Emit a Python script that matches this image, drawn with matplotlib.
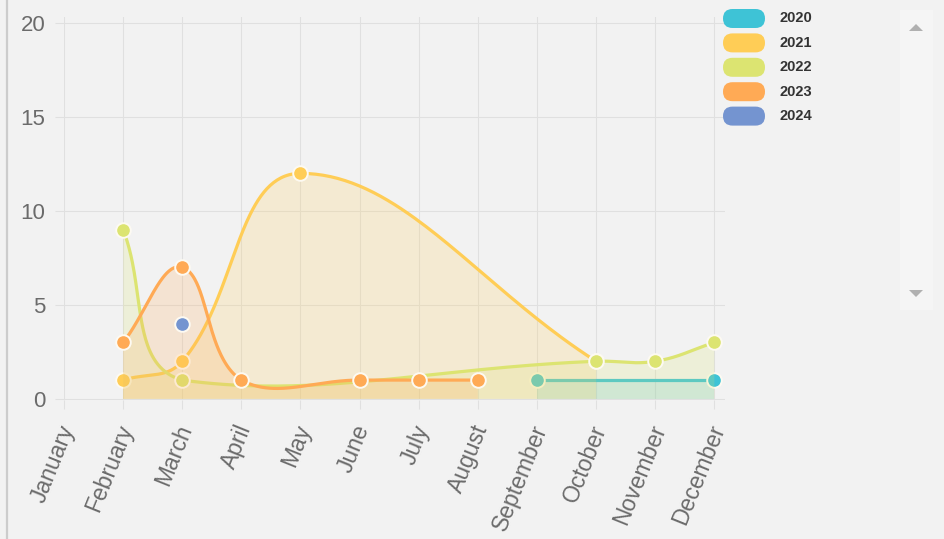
import numpy as np
import matplotlib
matplotlib.use("Agg")
import matplotlib.pyplot as plt
from matplotlib.patches import FancyBboxPatch, Rectangle, Polygon
from matplotlib.lines import Line2D
from matplotlib.transforms import IdentityTransform, ScaledTranslation

months = ["January", "February", "March", "April", "May", "June", "July",
          "August", "September", "October", "November", "December"]
years = ["2020", "2021", "2022", "2023", "2024"]
colors = ["#3ec3d6", "#ffcd56", "#dce471", "#ffaa55", "#7494d0"]

# None = no value for that month
v2020 = [None, None, None, None, None, None, None, None, 1, None, None, 1]
v2021 = [None, 1, 2, None, 12, None, None, None, None, 2, None, None]
v2022 = [None, 9, 1, None, None, None, None, None, None, 2, 2, 3]
v2023 = [None, 3, 7, 1, None, 1, 1, 1, None, None, None, None]
v2024 = [None, None, 4, None, None, None, None, None, None, None, None, None]
series = [v2020, v2021, v2022, v2023, v2024]

yticks = [0, 5, 10, 15, 20]

W, H = 945, 539
TENSION = 0.4
BG = "#f2f2f2"
GRID = "#e0e0e0"
TXT = "#6b6b6b"

plt.rcParams['font.family'] = ['Liberation Sans', 'DejaVu Sans']

fig = plt.figure(figsize=(W/100, H/100), dpi=100, facecolor=BG)
ax = fig.add_axes([64/W, (H-400)/H, 661/W, 383/H], facecolor=BG)
ax.set_xlim(0, 11.18)
ax.set_ylim(-0.06, 20.32)
for s in ax.spines.values():
    s.set_visible(False)

ax.set_xticks(range(len(months)))
ax.set_xticklabels(months, rotation=68, ha='right', va='center',
                   rotation_mode='anchor', fontsize=16.5, color=TXT)
ax.set_yticks(yticks)
ax.set_yticklabels([str(v) for v in yticks], fontsize=16, color=TXT)
ax.tick_params(axis='both', length=6.5, width=0.8, color=GRID)
ax.tick_params(axis='x', pad=12)
ax.tick_params(axis='y', pad=7)
ax.grid(True, color=GRID, lw=0.8)
ax.set_axisbelow(True)
shift = ScaledTranslation(0.04, 0, fig.dpi_scale_trans)
for lab in ax.get_xticklabels():
    lab.set_transform(lab.get_transform() + shift)


def bezier(pts, left, right, bottom, top):
    # chart.js style spline, computed in pixel space
    n = len(pts)
    ctrl = []
    for i in range(n):
        cur = pts[i]
        prev = pts[i-1] if i > 0 else cur
        nxt = pts[i+1] if i < n-1 else cur
        d01 = np.hypot(*(cur - prev))
        d12 = np.hypot(*(nxt - cur))
        tot = d01 + d12
        s01 = d01/tot if tot else 0
        s12 = d12/tot if tot else 0
        a = cur - TENSION*s01*(nxt - prev)
        b = cur + TENSION*s12*(nxt - prev)
        a = np.array([np.clip(a[0], left, right), np.clip(a[1], bottom, top)])
        b = np.array([np.clip(b[0], left, right), np.clip(b[1], bottom, top)])
        ctrl.append((a, b))
    t = np.linspace(0, 1, 80)[:, None]
    out = [pts[0][None, :]]
    for i in range(n-1):
        p0, p1, p2, p3 = pts[i], ctrl[i][1], ctrl[i+1][0], pts[i+1]
        seg = (1-t)**3*p0 + 3*(1-t)**2*t*p1 + 3*(1-t)*t**2*p2 + t**3*p3
        out.append(seg[1:])
    return np.vstack(out)


tr = ax.transData
left, bottom = tr.transform((0, 0))
right, top = tr.transform((11.18, 20.32))

for i, vals in enumerate(series):
    xs = np.array([k for k, v in enumerate(vals) if v is not None], dtype=float)
    ys = np.array([v for v in vals if v is not None], dtype=float)
    z = 3 + i*0.1
    c = colors[i]
    if len(xs) > 1:
        pix = tr.transform(np.column_stack([xs, ys]))
        curve = tr.inverted().transform(bezier(pix, left, right, bottom, top))
        poly = np.vstack([curve, [[curve[-1, 0], 0], [curve[0, 0], 0]]])
        ax.fill(poly[:, 0], poly[:, 1], color=c, alpha=0.2, lw=0, zorder=z)
        ax.plot(curve[:, 0], curve[:, 1], color=c, lw=2.3, zorder=z,
                solid_capstyle='round')
    ax.plot(xs, ys, 'o', ms=10.5, mfc=c, mec='#fdfaf2', mew=1.4, zorder=z,
            clip_on=False)

# left frame line
fig.add_artist(Line2D([7.5/W, 7.5/W], [0, 1], transform=fig.transFigure,
                      color='#cccccc', lw=1.6))

# legend with pill markers
ident = IdentityTransform()
for i, yr in enumerate(years):
    cy = H - (18.5 + i*24.4)
    fig.add_artist(FancyBboxPatch((723, cy - 9.5), 42, 19,
                                  boxstyle="round,pad=0,rounding_size=9.5",
                                  transform=ident, fc=colors[i], ec='none'))
    fig.text(780/W, cy/H, yr, fontsize=10.5, fontweight='bold',
             color='#333333', va='center', ha='left')

# scroll bar
fig.add_artist(Rectangle((900, H-310), 33, 300, transform=ident,
                         fc='#f5f5f5', ec='none'))
fig.add_artist(Polygon([(909, H-31), (923, H-31), (916, H-24)],
                       transform=ident, fc='#b0b0b0', ec='none'))
fig.add_artist(Polygon([(909, H-290), (923, H-290), (916, H-297)],
                       transform=ident, fc='#b0b0b0', ec='none'))

fig.savefig("out.png", dpi=100, facecolor=BG)
